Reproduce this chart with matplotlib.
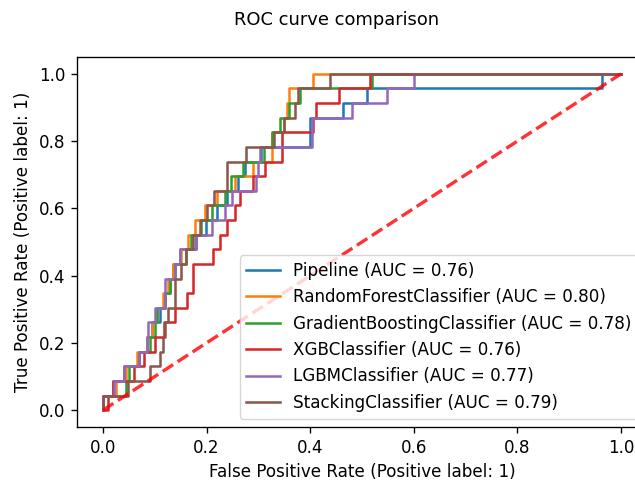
import matplotlib
matplotlib.use("Agg")
import matplotlib.pyplot as plt

# ---- data ----
model_names = ["Pipeline", "RandomForestClassifier", "GradientBoostingClassifier",
               "XGBClassifier", "LGBMClassifier", "StackingClassifier"]
auc_values = [0.76, 0.80, 0.78, 0.76, 0.77, 0.79]

# TPR levels (23 positives)
tpr_levels = [0.0, 0.043, 0.087, 0.130, 0.174, 0.217, 0.261, 0.304, 0.348, 0.391,
              0.435, 0.478, 0.522, 0.565, 0.609, 0.652, 0.696, 0.739, 0.783,
              0.826, 0.870, 0.913, 0.957, 1.0]

# FPR at which each curve reaches each TPR level
fpr_pipeline = [0.0, 0.0, 0.02, 0.04, 0.07, 0.085, 0.095, 0.11, 0.12, 0.13, 0.135, 0.149,
                0.18, 0.199, 0.22, 0.24, 0.26, 0.275, 0.306, 0.40, 0.40, 0.463, 0.51, 0.963]
fpr_rf = [0.0, 0.0, 0.025, 0.045, 0.065, 0.085, 0.095, 0.105, 0.115, 0.125, 0.135, 0.15,
          0.165, 0.178, 0.197, 0.22, 0.255, 0.29, 0.326, 0.326, 0.35, 0.355, 0.36, 0.405]
fpr_gb = [0.0, 0.0, 0.045, 0.05, 0.07, 0.09, 0.10, 0.104, 0.12, 0.13, 0.14, 0.16,
          0.17, 0.19, 0.21, 0.235, 0.248, 0.27, 0.31, 0.326, 0.342, 0.36, 0.38, 0.52]
fpr_xgb = [0.0, 0.01, 0.02, 0.06, 0.08, 0.10, 0.118, 0.14, 0.162, 0.174, 0.174, 0.213,
           0.225, 0.24, 0.255, 0.264, 0.29, 0.313, 0.345, 0.345, 0.406, 0.412, 0.456, 0.515]
fpr_lgbm = [0.0, 0.0, 0.022, 0.041, 0.07, 0.085, 0.087, 0.10, 0.12, 0.12, 0.14, 0.149,
            0.18, 0.21, 0.236, 0.25, 0.295, 0.30, 0.303, 0.403, 0.403, 0.48, 0.548, 0.60]
fpr_stack = [0.0, 0.0, 0.048, 0.09, 0.11, 0.115, 0.12, 0.125, 0.139, 0.14, 0.15, 0.16,
             0.174, 0.187, 0.20, 0.215, 0.239, 0.239, 0.276, 0.33, 0.35, 0.37, 0.377, 0.438]

all_fpr = [fpr_pipeline, fpr_rf, fpr_gb, fpr_xgb, fpr_lgbm, fpr_stack]
colors = ["#1f77b4", "#ff7f0e", "#2ca02c", "#d62728", "#9467bd", "#8c564b"]

S = 1.21  # reference was rendered at a larger scale
plt.rcParams.update({
    "font.size": 10 * S,
    "axes.linewidth": 0.8 * S,
    "xtick.major.size": 3.5 * S,
    "ytick.major.size": 3.5 * S,
    "xtick.major.width": 0.8 * S,
    "ytick.major.width": 0.8 * S,
    "xtick.major.pad": 3.5 * S,
    "ytick.major.pad": 3.5 * S,
    "axes.labelpad": 4.0 * S,
})

W, H = 635, 483
fig = plt.figure(figsize=(W / 100, H / 100), dpi=100)
ax = fig.add_axes([77 / W, (H - 427) / H, 570 / W, 370 / H])

for name, auc, fpr, c in zip(model_names, auc_values, all_fpr, colors):
    xs = fpr + [1.0]
    ys = tpr_levels + [1.0]
    px, py = [], []
    for i in range(len(fpr)):
        if i == 0:
            px.append(xs[0]); py.append(ys[0])
        else:
            px.append(xs[i]); py.append(ys[i - 1])
            px.append(xs[i]); py.append(ys[i])
    px.append(1.0); py.append(1.0)
    ax.plot(px, py, color=c, lw=1.5 * S, label=f"{name} (AUC = {auc:.2f})")

ax.plot([0, 1], [0, 1], linestyle="--", lw=2 * S, color="r", alpha=0.8)

ax.set_xlim(-0.05, 1.05)
ax.set_ylim(-0.05, 1.05)
ax.set_xticks([0.0, 0.2, 0.4, 0.6, 0.8, 1.0])
ax.set_yticks([0.0, 0.2, 0.4, 0.6, 0.8, 1.0])
ax.set_xlabel("False Positive Rate (Positive label: 1)")
ax.set_ylabel("True Positive Rate (Positive label: 1)")
ax.legend(loc="lower right")

fig.text(337 / W, 1 - 20 / H, "ROC curve comparison", ha="center", va="center", fontsize=12.9)

fig.savefig("out.png", dpi=100)
